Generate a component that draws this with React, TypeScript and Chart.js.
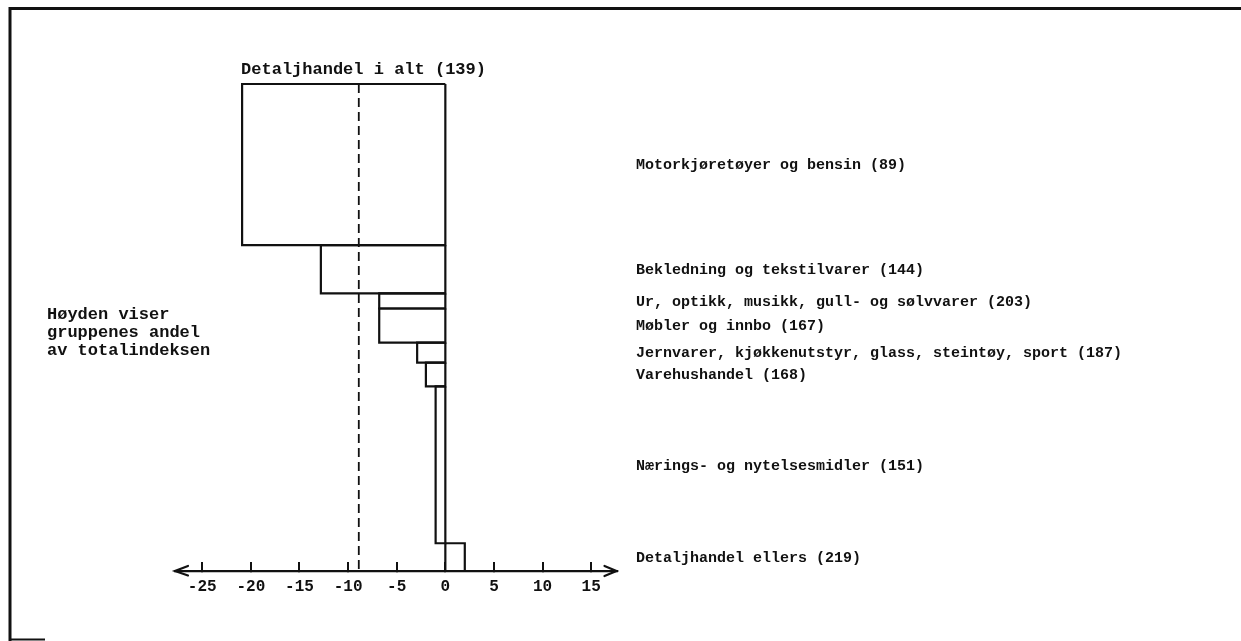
import React, { useEffect, useRef } from 'react';
import { Chart, registerables } from 'chart.js';

Chart.register(...registerables);

const categories = [
  'Motorkjøretøyer og bensin (89)',
  'Bekledning og tekstilvarer (144)',
  'Ur, optikk, musikk, gull- og sølvvarer (203)',
  'Møbler og innbo (167)',
  'Jernvarer, kjøkkenutstyr, glass, steintøy, sport (187)',
  'Varehushandel (168)',
  'Nærings- og nytelsesmidler (151)',
  'Detaljhandel ellers (219)',
];
const values = [-20.9, -12.8, -6.8, -6.8, -2.9, -2.0, -1.0, 2.0];
const weights = [33.1, 9.9, 3.1, 7.0, 4.1, 4.9, 32.2, 5.7];
const totalLabel = 'Detaljhandel i alt (139)';
const totalMarker = -8.9;
const tickValues = [-25, -20, -15, -10, -5, 0, 5, 10, 15];
const tickLabels = ['-25', '-20', '-15', '-10', '-5', '0', '5', '10', '15'];
const sideNote = ['Høyden viser', 'gruppenes andel', 'av totalindeksen'];
const xMin = -27.8;
const xMax = 17.6;

const FONT = "'Liberation Mono', 'DejaVu Sans Mono', monospace";
const INK = '#111';

export default function App() {
  const ref = useRef<HTMLCanvasElement | null>(null);

  useEffect(() => {
    const canvas = ref.current;
    if (!canvas) return;
    document.body.style.margin = '0';

    const total = weights.reduce((a, b) => a + b, 0);
    const tops: number[] = [];
    let acc = total;
    weights.forEach((w) => {
      tops.push(acc);
      acc -= w;
    });

    const barSets = values.map((v, i) => {
      const yTop = tops[i];
      const yBot = tops[i] - weights[i];
      return {
        label: categories[i],
        data: [
          { x: 0, y: yTop },
          { x: v, y: yTop },
          { x: v, y: yBot },
          { x: 0, y: yBot },
          { x: 0, y: yTop },
        ],
        showLine: true,
        borderColor: INK,
        borderWidth: 2.2,
        borderJoinStyle: 'miter' as const,
        pointRadius: 0,
        fill: false,
        tension: 0,
        clip: false as any,
      };
    });

    const markerSet = {
      label: totalLabel,
      data: [
        { x: totalMarker, y: total },
        { x: totalMarker, y: 0 },
      ],
      showLine: true,
      borderColor: INK,
      borderWidth: 1.8,
      borderDash: [9, 5],
      pointRadius: 0,
      fill: false,
      clip: false as any,
    };

    const decor = {
      id: 'decor',
      beforeDraw(chart: any) {
        const ctx = chart.ctx;
        ctx.save();
        ctx.fillStyle = '#fff';
        ctx.fillRect(0, 0, chart.width, chart.height);
        ctx.strokeStyle = INK;
        ctx.lineWidth = 3;
        ctx.beginPath();
        ctx.moveTo(10, 641);
        ctx.lineTo(10, 8.5);
        ctx.lineTo(chart.width, 8.5);
        ctx.stroke();
        ctx.lineWidth = 2;
        ctx.beginPath();
        ctx.moveTo(9, 639.5);
        ctx.lineTo(45, 639.5);
        ctx.stroke();
        ctx.restore();
      },
      afterDraw(chart: any) {
        const ctx = chart.ctx;
        const xs = chart.scales.x;
        const ys = chart.scales.y;
        const area = chart.chartArea;
        const y0 = ys.getPixelForValue(0);
        ctx.save();
        ctx.strokeStyle = INK;
        ctx.lineWidth = 2.2;
        ctx.lineCap = 'round';
        // arrow heads
        ctx.beginPath();
        ctx.moveTo(area.left + 13, y0 - 5);
        ctx.lineTo(area.left, y0);
        ctx.lineTo(area.left + 13, y0 + 4.5);
        ctx.moveTo(area.right - 12, y0 - 5);
        ctx.lineTo(area.right, y0);
        ctx.lineTo(area.right - 12, y0 + 5);
        ctx.stroke();

        ctx.fillStyle = INK;
        ctx.textBaseline = 'middle';
        ctx.textAlign = 'left';
        // title above the top bar
        ctx.font = `bold 17px ${FONT}`;
        ctx.fillText(totalLabel, xs.getPixelForValue(values[0]) - 1, ys.getPixelForValue(total) - 14);
        // side note
        sideNote.forEach((t, i) => {
          ctx.fillText(t, 47, 315 + i * 18);
        });
        // category labels at bar centres
        ctx.font = `bold 15px ${FONT}`;
        categories.forEach((c, i) => {
          const yc = ys.getPixelForValue(tops[i] - weights[i] / 2);
          ctx.fillText(c, 636, yc + 1);
        });
        ctx.restore();
      },
    };

    const chart = new Chart(canvas, {
      type: 'scatter',
      data: { datasets: [...barSets, markerSet] as any },
      options: {
        animation: false,
        responsive: false,
        devicePixelRatio: 1,
        layout: { padding: { left: 175, right: 1241 - 616.5, top: 84, bottom: 30 } },
        plugins: {
          legend: { display: false },
          tooltip: { enabled: false },
          title: { display: false },
        },
        scales: {
          x: {
            type: 'linear',
            position: 'bottom',
            min: xMin,
            max: xMax,
            afterBuildTicks: (scale: any) => {
              scale.ticks = tickValues.map((v) => ({ value: v }));
            },
            afterFit: (scale: any) => {
              scale.height = 40;
            },
            ticks: {
              color: INK,
              padding: 15,
              maxRotation: 0,
              autoSkip: false,
              font: { family: FONT, size: 16, weight: 'bold' },
              callback: (val: any) => {
                const idx = tickValues.indexOf(Number(val));
                return idx >= 0 ? tickLabels[idx] : '';
              },
            },
            grid: {
              display: true,
              drawOnChartArea: false,
              drawTicks: true,
              tickLength: -9,
              color: INK,
              lineWidth: 2,
            },
            border: { display: true, color: INK, width: 2.2 },
          },
          y: {
            type: 'linear',
            display: false,
            min: 0,
            max: total,
          },
        },
      } as any,
      plugins: [decor],
    });

    return () => chart.destroy();
  }, []);

  return (
    <div style={{ position: 'absolute', left: 0, top: 0, width: 1241, height: 641 }}>
      <canvas ref={ref} width={1241} height={641} style={{ display: 'block' }} />
    </div>
  );
}
